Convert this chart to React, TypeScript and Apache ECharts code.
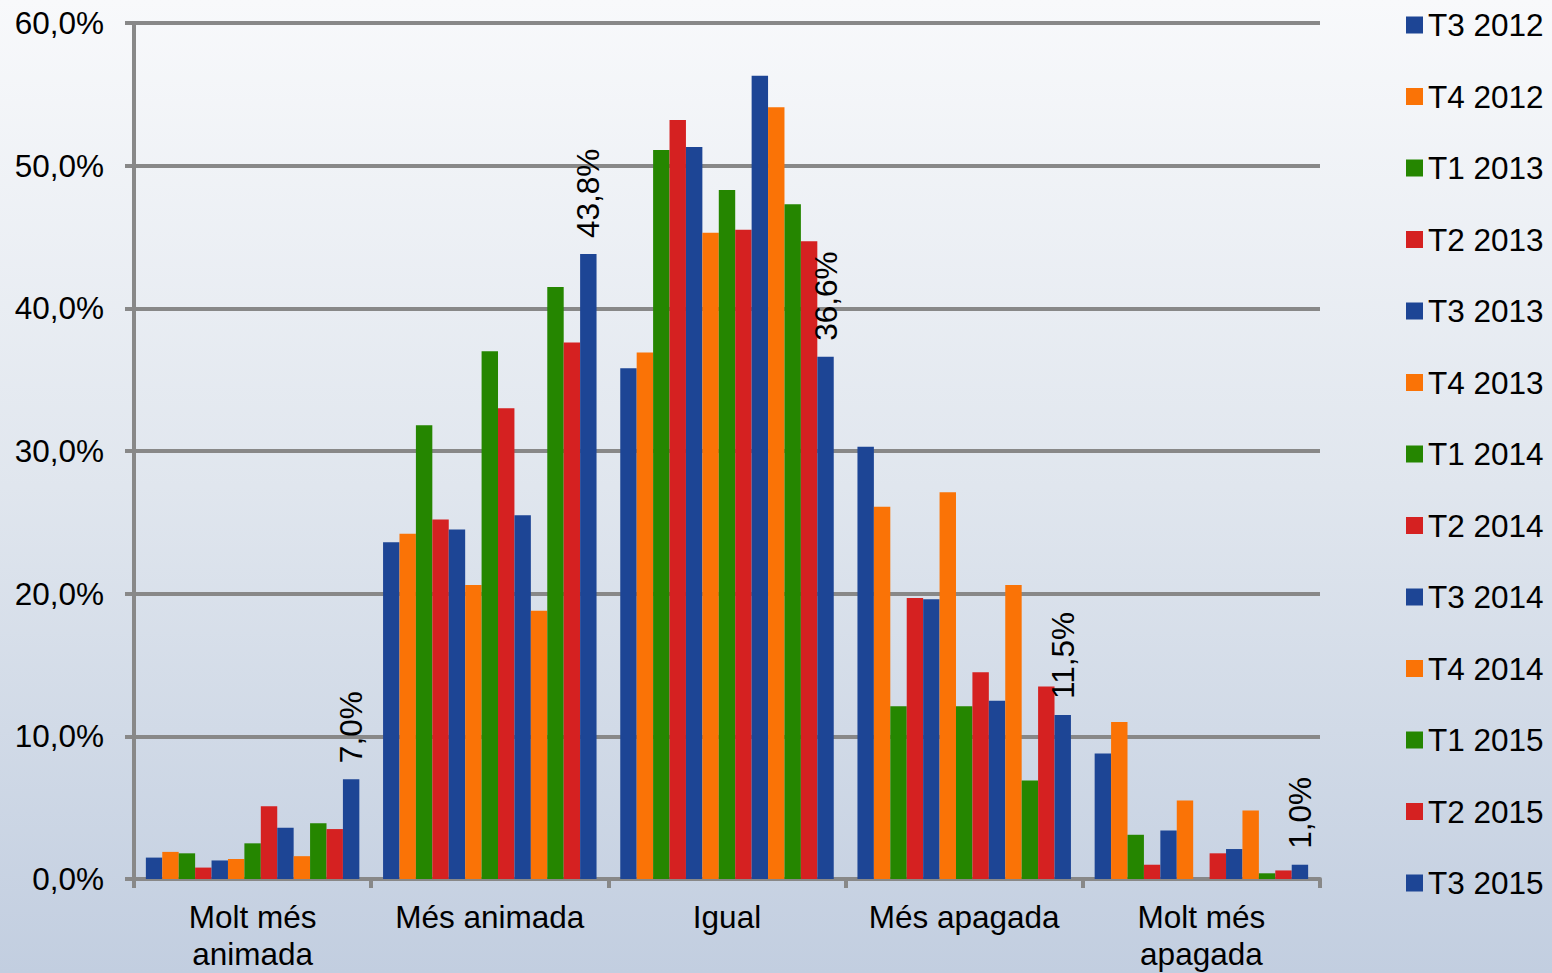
import React, { useEffect, useRef } from "react";
import * as echarts from "echarts";

const categories = ["Molt més\nanimada", "Més animada", "Igual", "Més apagada", "Molt més\napagada"];
const seriesNames = [
  "T3 2012", "T4 2012", "T1 2013", "T2 2013", "T3 2013", "T4 2013", "T1 2014",
  "T2 2014", "T3 2014", "T4 2014", "T1 2015", "T2 2015", "T3 2015",
];
// values per series, in category order
const T3_2012 = [1.5, 23.6, 35.8, 30.3, 8.8];
const T4_2012 = [1.9, 24.2, 36.9, 26.1, 11.0];
const T1_2013 = [1.8, 31.8, 51.1, 12.1, 3.1];
const T2_2013 = [0.8, 25.2, 53.2, 19.7, 1.0];
const T3_2013 = [1.3, 24.5, 51.3, 19.6, 3.4];
const T4_2013 = [1.4, 20.6, 45.3, 27.1, 5.5];
const T1_2014 = [2.5, 37.0, 48.3, 12.1, 0];
const T2_2014 = [5.1, 33.0, 45.5, 14.5, 1.8];
const T3_2014 = [3.6, 25.5, 56.3, 12.5, 2.1];
const T4_2014 = [1.6, 18.8, 54.1, 20.6, 4.8];
const T1_2015 = [3.9, 41.5, 47.3, 6.9, 0.4];
const T2_2015 = [3.5, 37.6, 44.7, 13.5, 0.6];
const T3_2015 = [7.0, 43.8, 36.6, 11.5, 1.0];
const seriesValues = [
  T3_2012, T4_2012, T1_2013, T2_2013, T3_2013, T4_2013, T1_2014,
  T2_2014, T3_2014, T4_2014, T1_2015, T2_2015, T3_2015,
];
const yTicks = [0, 10, 20, 30, 40, 50, 60];

const palette = ["#1d4595", "#fa7306", "#258600", "#d52121"];
const FONT = "'Liberation Sans', Arial, sans-serif";
const FS = 31.5;
const fmt = (v: number) => v.toFixed(1).replace(".", ",") + "%";

export default function App() {
  const ref = useRef<HTMLDivElement>(null);
  useEffect(() => {
    if (!ref.current) return;
    const chart = echarts.init(ref.current, null, { renderer: "svg" });
    const last = seriesNames.length - 1;
    chart.setOption({
      animation: false,
      backgroundColor: new echarts.graphic.LinearGradient(0, 0, 0, 1, [
        { offset: 0, color: "#f8f9fb" },
        { offset: 0.5, color: "#e0e6ee" },
        { offset: 1, color: "#c2cee0" },
      ]),
      color: palette,
      textStyle: { fontFamily: FONT },
      grid: { left: 134, right: 232, top: 23, bottom: 94 },
      legend: {
        orient: "vertical",
        left: 1406,
        top: 9,
        padding: 0,
        itemWidth: 17,
        itemHeight: 17,
        itemGap: 39.5,
        icon: "rect",
        data: seriesNames,
        textStyle: { fontSize: FS, color: "#000", fontFamily: FONT, lineHeight: 32 },
      },
      xAxis: {
        type: "category",
        data: categories,
        axisLine: { lineStyle: { color: "#888", width: 4 } },
        axisTick: { show: true, length: 9, lineStyle: { color: "#888", width: 4 } },
        axisLabel: { fontSize: FS, color: "#000", lineHeight: 37, margin: 19, fontFamily: FONT, interval: 0 },
      },
      yAxis: {
        type: "value",
        min: yTicks[0],
        max: yTicks[yTicks.length - 1],
        interval: 10,
        axisLine: { show: true, lineStyle: { color: "#888", width: 4 } },
        axisTick: { show: true, length: 9, lineStyle: { color: "#888", width: 4 } },
        splitLine: { lineStyle: { color: "#888", width: 4 } },
        axisLabel: { fontSize: FS, color: "#000", margin: 30, fontFamily: FONT, formatter: (v: number) => fmt(v) },
      },
      series: seriesNames.map((name, i) => ({
        name,
        type: "bar",
        data: seriesValues[i],
        barGap: "0%",
        barCategoryGap: "10%",
        itemStyle: { color: palette[i % 4] },
        label: i === last
          ? {
              show: true,
              position: "top",
              rotate: 90,
              align: "left",
              verticalAlign: "middle",
              distance: 16,
              fontSize: FS,
              color: "#000",
              fontFamily: FONT,
              formatter: (p: any) => fmt(p.value),
            }
          : { show: false },
      })),
    });
    return () => chart.dispose();
  }, []);
  return <div ref={ref} style={{ position: "fixed", left: 0, top: 0, width: 1552, height: 973 }} />;
}
